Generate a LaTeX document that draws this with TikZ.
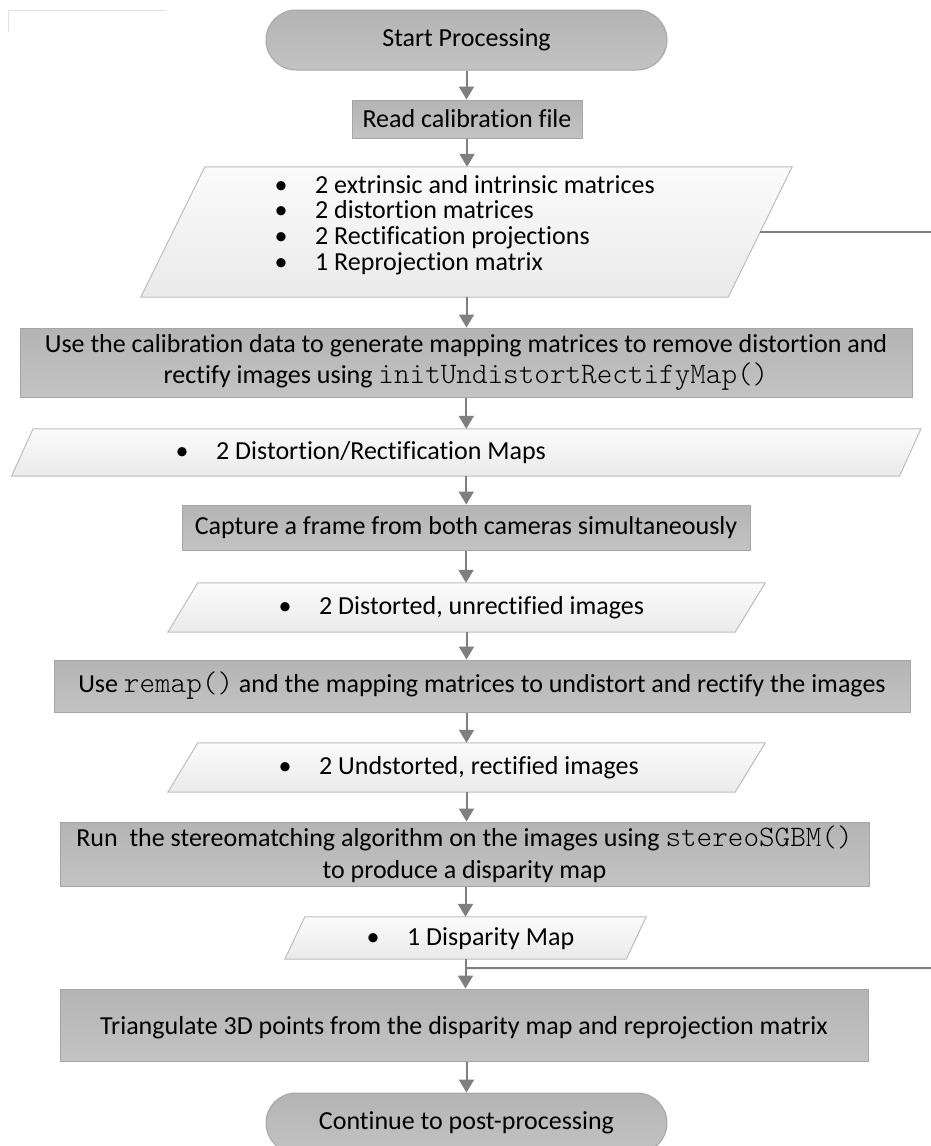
\documentclass[tikz,border=0pt]{standalone}
\usepackage{fontspec}
\setmainfont{Carlito}[Ligatures={NoCommon}]
\setmonofont{Latin Modern Mono Light}
\usetikzlibrary{arrows.meta,shapes.misc,calc}
\definecolor{boxtop}{HTML}{B4B4B4}
\definecolor{boxbot}{HTML}{C3C3C3}
\definecolor{boxedge}{HTML}{A6A6A6}
\definecolor{ptop}{HTML}{FBFBFB}
\definecolor{pbot}{HTML}{EAEAEA}
\definecolor{pedge}{HTML}{BDBDBD}
\definecolor{arrowgray}{HTML}{7F7F7F}
\definecolor{faintgray}{HTML}{E2E2E2}
\newcommand\fsz{\fontsize{26pt}{31pt}\selectfont}
\newcommand\code[1]{{\fontsize{29.7pt}{31pt}\selectfont\ttfamily #1}}
\newcommand\bul{\makebox[0pt]{\textbullet}\hspace{34pt}}
\newcommand\pgram[2]{%
  \path[pshape] ($(#1.south west)+(-#2,0)$) -- ($(#1.south east)+(-#2,0)$)
    -- ($(#1.north east)+(#2,0)$) -- ($(#1.north west)+(#2,0)$) -- cycle;}
\tikzset{
  procbox/.style={rectangle, draw=boxedge, line width=1pt, top color=boxtop,
    bottom color=boxbot, inner sep=0pt, align=center, font=\fsz},
  termbox/.style={procbox, rounded rectangle},
  pgeom/.style={rectangle, inner sep=0pt},
  pshape/.style={draw=pedge, line width=1pt, top color=ptop, bottom color=pbot},
  ptext/.style={anchor=west, inner sep=0pt, align=left, font=\fsz},
  arr/.style={draw=arrowgray, line width=2pt, -{Triangle[width=15pt,length=13pt]}},
  sideline/.style={draw=arrowgray, line width=2pt},
  faint/.style={draw=faintgray, line width=1pt}
}
\begin{document}
\begin{tikzpicture}[x=1pt,y=-1pt]
\useasboundingbox (0,0) rectangle (931,1146);
\clip (0,0) rectangle (931,1146);
\draw[faint] (8,32) -- (8,10) -- (166,10);

\node[termbox, minimum width=401pt, minimum height=60pt] (start) at (466.5,40) {Start Processing};
\node[procbox, minimum width=230pt, minimum height=38pt] (read) at (467,119) {Read calibration file};

\node[pgeom, minimum width=587pt, minimum height=130pt] (p1) at (466.5,232) {};
\pgram{p1}{32}
\node[ptext, font={\fontsize{26pt}{25.7pt}\selectfont}] (p1t) at (281,225) {\bul 2 extrinsic and intrinsic matrices\\ \bul 2 distortion matrices\\ \bul 2 Rectification projections\\ \bul 1 Reprojection matrix};

\node[procbox, minimum width=892pt, minimum height=69pt] (box2) at (466,362.5) {Use the calibration data to generate mapping matrices to remove distortion and\\ rectify images using \code{initUndistortRectifyMap()}};

\node[pgeom, minimum width=887.5pt, minimum height=47pt] (p2) at (466.25,452.5) {};
\pgram{p2}{10.75}
\node[ptext] (p2t) at (182,452.5) {\bul 2 Distortion/Rectification Maps};

\node[procbox, minimum width=568pt, minimum height=45pt] (box3) at (466,527.5) {Capture a frame from both cameras simultaneously};

\node[pgeom, minimum width=567pt, minimum height=49pt] (p3) at (466.5,607.5) {};
\pgram{p3}{15}
\node[ptext] (p3t) at (285,607.5) {\bul 2 Distorted, unrectified images};

\node[procbox, minimum width=856pt, minimum height=52pt] (box4) at (482,686) {Use \code{remap()} and the mapping matrices to undistort and rectify the images};

\node[pgeom, minimum width=567pt, minimum height=49pt] (p4) at (466.5,767.5) {};
\pgram{p4}{15}
\node[ptext] (p4t) at (285,767.5) {\bul 2 Undstorted, rectified images};

\node[procbox, minimum width=809pt, minimum height=64pt] (box5) at (464.5,854) {Run\ \ the stereomatching algorithm on the images using \code{stereoSGBM()}\\[1pt] to produce a disparity map};

\node[pgeom, minimum width=341pt, minimum height=42pt] (p5) at (465.5,938) {};
\pgram{p5}{10}
\node[ptext] (p5t) at (373,939) {\bul 1 Disparity Map};

\node[procbox, minimum width=808pt, minimum height=72pt] (tri) at (464,1025) {\raisebox{-9pt}[0pt][0pt]{Triangulate 3D points from the disparity map and reprojection matrix}};

\node[termbox, minimum width=401pt, minimum height=60pt] (end) at (466.5,1123) {Continue to post-processing};

\draw[arr] (start.south) -- (start.south |- read.north);
\draw[arr] (read.south) -- (read.south |- p1.north);
\draw[arr] (p1.south) -- (p1.south |- box2.north);
\draw[arr] (p2.north |- box2.south) -- (p2.north);
\draw[arr] (p2.south) -- (p2.south |- box3.north);
\draw[arr] (box3.south) -- (box3.south |- p3.north);
\draw[arr] (p3.south) -- (p3.south |- box4.north);
\draw[arr] (p4.north |- box4.south) -- (p4.north);
\draw[arr] (p4.south) -- (p4.south |- box5.north);
\draw[arr] (p5.north |- box5.south) -- (p5.north);
\draw[arr] (p5.south) -- (p5.south |- tri.north);
\draw[arr] (end.north |- tri.south) -- (end.north);

\coordinate (edge1) at (931,232);
\draw[sideline] (p1.east) -- (edge1);
\coordinate (j5) at ($(p5.south)!0.3!(p5.south |- tri.north)$);
\coordinate (edge2) at (931,968);
\draw[sideline] (j5) -- (edge2);
\end{tikzpicture}
\end{document}
